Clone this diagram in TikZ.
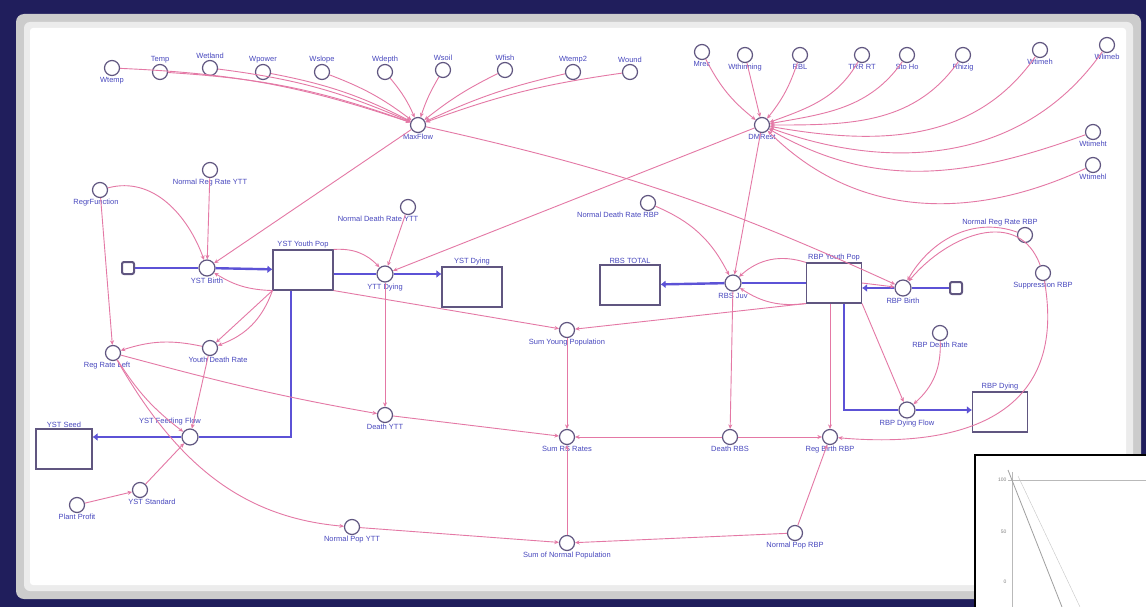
\documentclass[tikz,border=0pt]{standalone}
\usepackage{fontspec}
\setmainfont{Liberation Sans}
\usetikzlibrary{arrows.meta,calc}
\definecolor{navy}{RGB}{32,30,92}
\definecolor{linkpink}{RGB}{228,120,165}
\definecolor{flowblue}{RGB}{92,82,214}
\definecolor{lblblue}{RGB}{72,72,190}
\definecolor{convgrey}{RGB}{96,86,128}

\begin{document}
\begin{tikzpicture}[x=1pt,y=-1pt,
  conv/.style={circle,draw=convgrey,line width=1.2pt,fill=white,minimum size=15pt,inner sep=0pt},
  valve/.style={circle,draw=convgrey,line width=1.2pt,fill=white,minimum size=16pt,inner sep=0pt},
  cloud/.style={rounded corners=2pt,draw=convgrey,line width=2pt,fill=white,minimum size=12pt,inner sep=0pt},
  stockbox/.style={draw=convgrey,line width=1.1pt,fill=white,minimum width=60pt,minimum height=40pt},
  lbl/.style={text=lblblue,font=\fontsize{7.5}{9}\selectfont,inner sep=1pt},
  link/.style={draw=linkpink,line width=0.9pt,-{Stealth[length=4.5pt,width=4pt]}},
  flowline/.style={draw=flowblue,line width=2.4pt},
  flowtip/.style={flowline,-{Latex[length=5pt,width=8pt]}},
]
\useasboundingbox (0,0) rectangle (1146,607);
% frame
\fill[navy] (0,0) rectangle (1146,607);
\fill[gray!40,rounded corners=8pt] (16,14) rectangle (1141,599);
\fill[gray!15,rounded corners=6pt] (24,22) rectangle (1133,591);
\fill[white,rounded corners=3pt] (30,28) rectangle (1126,585);

% inputs of MaxFlow
\node[conv,label={[lbl]below:MaxFlow}] (maxflow) at (418,125) {};
\foreach \n/\x/\y/\t/\p in {a1/112/68/Wtemp/below, a2/160/72/Temp/above, a3/210/68/Wetland/above,
    a4/263/72/Wpower/above, a5/322/72/Wslope/above, a6/385/72/Wdepth/above, a7/443/70/Wsoil/above,
    a8/505/70/Wfish/above, a9/573/72/Wtemp2/above, a10/630/72/Wound/above}
  \node[conv,label={[lbl]\p:\t}] (\n) at (\x,\y) {};
\foreach \n in {a1,a2,a3,a4,a5,a6}
  \draw[link] (\n) to[bend left=8] (maxflow);
\foreach \n in {a7,a8,a9,a10}
  \draw[link] (\n) to[bend right=6] (maxflow);

% inputs of DMRest
\node[conv,label={[lbl]below:DMRest}] (rbflow) at (762,125) {};
\foreach \n/\x/\y/\t/\p in {r1/702/52/Mrec/below, r2/745/55/Wthinning/below, r3/800/55/RBL/below,
    r4/862/55/TRR RT/below, r5/907/55/Sto Ho/below, r6/963/55/Rhizig/below, r7/1040/50/Wtimeh/below,
    r8/1107/45/Wlimeb/below, r9/1093/132/Wtimeht/below, r10/1093/165/Wtimehl/below}
  \node[conv,label={[lbl]\p:\t}] (\n) at (\x,\y) {};
\draw[link] (r1) to[bend right=12] (rbflow);
\draw[link] (r2) -- (rbflow);
\draw[link] (r3) to[bend left=10] (rbflow);
\foreach \n/\o/\i in {r4/240/20, r5/235/10, r6/235/0, r7/235/-10, r8/235/-20, r9/200/-30, r10/205/-45}
  \draw[link] (\n) to[out=\o,in=\i] (rbflow);

% YST chain
\node[conv,label={[lbl,xshift=-4pt]below:RegrFunction}] (regfn) at (100,190) {};
\node[conv,label={[lbl]below:Normal Reg Rate YTT}] (nrytt) at (210,170) {};
\node[cloud] (cloudL) at (128,268) {};
\node[valve,label={[lbl]below:YST Birth}] (ystbirth) at (207,268) {};
\node[stockbox,label={[lbl]above:YST Youth Pop}] (ystpop) at (303,270) {};
\node[conv,label={[lbl,xshift=-30pt]below:Normal Death Rate YTT}] (ndytt) at (408,207) {};
\node[valve,label={[lbl]below:YTT Dying}] (ytdie) at (385,274) {};
\node[stockbox,label={[lbl]above:YST Dying}] (ystdie) at (472,287) {};
\node[conv,label={[lbl,xshift=-6pt]below:Reg Rate Left}] (regleft) at (113,353) {};
\node[conv,label={[lbl,xshift=8pt]below:Youth Death Rate}] (ydr) at (210,348) {};
\node[valve,label={[lbl,xshift=-20pt,yshift=2pt]above:YST Feeding Flow}] (ystfeed) at (190,437) {};
\node[stockbox,minimum width=56pt,label={[lbl]above:YST Seed}] (ystseed) at (64,449) {};
\node[conv,label={[lbl]below:Plant Profit}] (profit) at (77,505) {};
\node[conv,label={[lbl,xshift=12pt]below:YST Standard}] (ystd) at (140,490) {};
\node[conv,label={[lbl]below:Death YTT}] (deathytt) at (385,415) {};
\node[conv,label={[lbl]below:Normal Pop YTT}] (npytt) at (352,527) {};

% RBP chain
\node[stockbox,label={[lbl]above:RBS TOTAL}] (rbstot) at (630,285) {};
\node[conv,label={[lbl,xshift=-30pt]below:Normal Death Rate RBP}] (ndrbp) at (648,203) {};
\node[valve,label={[lbl]below:RBS Juv}] (rbsjuv) at (733,283) {};
\node[stockbox,minimum width=55pt,label={[lbl]above:RBP Youth Pop}] (rbppop) at (834,283) {};
\node[valve,label={[lbl]below:RBP Birth}] (rbpbirth) at (903,288) {};
\node[cloud] (cloudR) at (956,288) {};
\node[conv,label={[lbl,xshift=-25pt]above:Normal Reg Rate RBP}] (nrrbp) at (1025,235) {};
\node[conv,label={[lbl]below:Suppression RBP}] (supp) at (1043,273) {};
\node[conv,label={[lbl]below:RBP Death Rate}] (rbpdr) at (940,333) {};
\node[valve,label={[lbl]below:RBP Dying Flow}] (rbpdf) at (907,410) {};
\node[stockbox,minimum width=55pt,label={[lbl]above:RBP Dying}] (rbpdie) at (1000,412) {};
\node[conv,label={[lbl]below:Death RBS}] (deathrbs) at (730,437) {};
\node[conv,label={[lbl]below:Reg Birth RBP}] (regbirth) at (830,437) {};
\node[conv,label={[lbl]below:Normal Pop RBP}] (nprbp) at (795,533) {};

% sums
\node[conv,label={[lbl]below:Sum Young Population}] (sumyoung) at (567,330) {};
\node[conv,label={[lbl]below:Sum RS Rates}] (sumrs) at (567,437) {};
\node[conv,label={[lbl]below:Sum of Normal Population}] (sumnorm) at (567,543) {};

% flows
\draw[flowline] (cloudL) -- (ystbirth);
\draw[flowtip] (ystbirth) -- (ystpop);
\draw[flowline] (ystpop.east |- ytdie) -- (ytdie);
\draw[flowtip] (ytdie) -- (ystdie.west |- ytdie);
\draw[flowline] ([xshift=-12pt]ystpop.south) |- (ystfeed);
\draw[flowtip] (ystfeed) -- (ystseed.east |- ystfeed);
\draw[flowline] (rbppop) -- (rbsjuv);
\draw[flowtip] (rbsjuv) -- (rbstot);
\draw[flowline] (cloudR) -- (rbpbirth);
\draw[flowtip] (rbpbirth) -- (rbppop.east |- rbpbirth);
\draw[flowline] ([xshift=10pt]rbppop.south) |- (rbpdf);
\draw[flowtip] (rbpdf) -- (rbpdie.west |- rbpdf);

% connectors
\draw[link] (maxflow) -- (ystbirth);
\draw[link] (maxflow) to[bend left=6] (rbpbirth);
\draw[link] (rbflow) -- (ytdie);
\draw[link] (rbflow) -- (rbsjuv);
\draw[link] (regfn) to[out=15,in=110] (ystbirth);
\draw[link] (regfn) -- (regleft);
\draw[link] (nrytt) -- (ystbirth);
\draw[link] (ystpop.south west) to[bend left=15] (ystbirth);
\draw[link] (ystpop.south west) -- (ydr);
\draw[link] (ystpop.south west) to[bend left=25] (ydr);
\draw[link] (ydr) to[bend right=15] (regleft);
\draw[link] (ydr) -- (ystfeed);
\draw[link] (regleft) to[bend right=10] (ystfeed);
\draw[link] (ystd) -- (ystfeed);
\draw[link] (profit) -- (ystd);
\draw[link] (ndytt) -- (ytdie);
\draw[link] (ystpop.north east) to[bend left=25] (ytdie);
\draw[link] (ystpop.south east) -- (sumyoung);
\draw[link] (rbppop.south west) -- (sumyoung);
\draw[link] (ytdie) -- (deathytt);
\draw[link] (regleft) to[out=-15,in=170] (deathytt);
\draw[link] (regleft) to[out=-60,in=175] (npytt);
\draw[link] (sumyoung) -- (sumrs);
\draw[link] (deathytt) -- (sumrs);
\draw[link] (deathrbs) -- (sumrs);
\draw[link] (sumnorm) -- (sumrs);
\draw[link] (npytt) -- (sumnorm);
\draw[link] (nprbp) -- (sumnorm);
\draw[link] (rbsjuv) -- (deathrbs);
\draw[link] (deathrbs) -- (regbirth);
\draw[link] (nprbp) -- (regbirth);
\draw[link] ([xshift=-4pt]rbppop.south) -- (regbirth);
\draw[link] (ndrbp) to[bend left=20] (rbsjuv);
\draw[link] (rbppop.north west) to[bend right=30] (rbsjuv);
\draw[link] (rbppop.south west) to[bend left=20] (rbsjuv);
\draw[link] (rbppop.east) -- (rbpbirth);
\draw[link] (nrrbp) to[out=160,in=60] (rbpbirth);
\draw[link] (supp) to[out=110,in=50,looseness=1.2] (rbpbirth);
\draw[link] (rbppop.south east) -- (rbpdf);
\draw[link] (rbpdr) to[bend left=25] (rbpdf);
\draw[link] (supp) to[out=-80,in=-5,looseness=1.3] (regbirth);

% inset chart
\draw[black,line width=1.6pt,fill=white] (975,455) rectangle (1152,612);
\draw[gray!55] (1012,472) -- (1012,607);
\draw[gray!55] (1008,480) -- (1146,480);
\draw[gray!75,thick] (1008,470) -- (1062,607);
\draw[gray!45] (1018,476) -- (1080,607);
\foreach \yy/\v in {480/100, 532/50, 582/0}
  \node[text=gray,font=\fontsize{5}{6}\selectfont,anchor=east] (tick\v) at (1010,\yy) {\v};
\end{tikzpicture}
\end{document}
